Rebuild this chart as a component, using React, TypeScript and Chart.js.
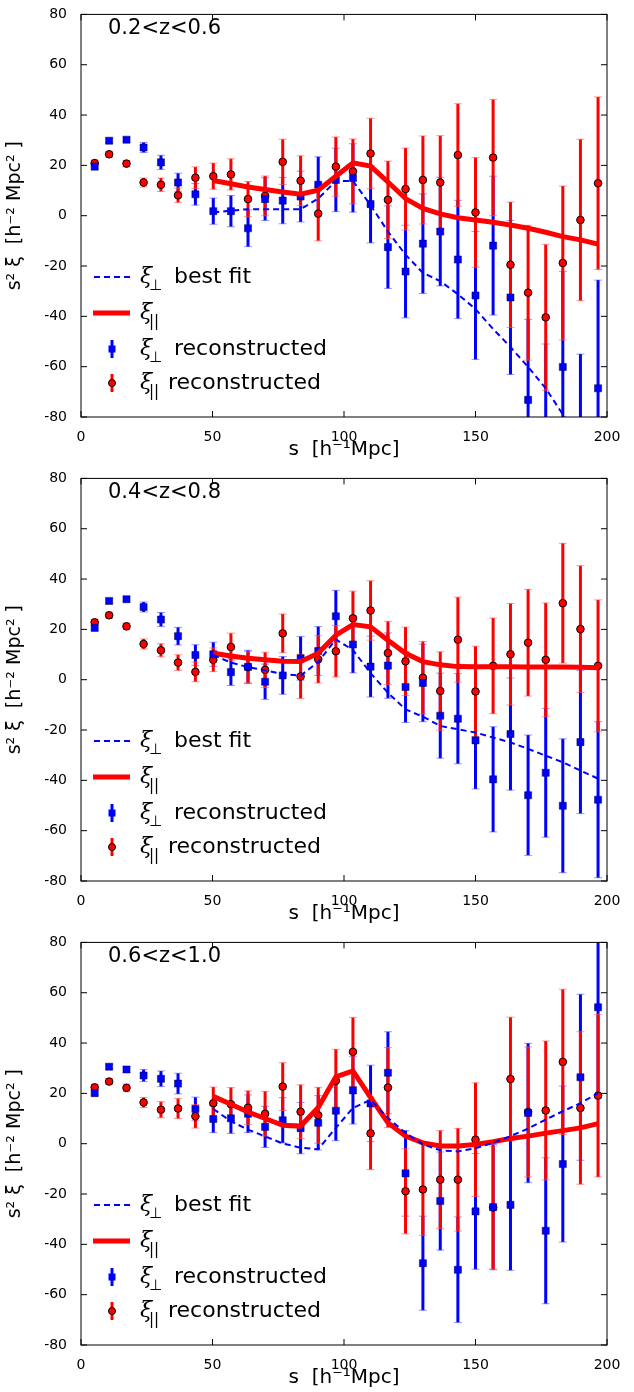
import { useEffect, useRef } from 'react'
import { Chart, registerables } from 'chart.js'

Chart.register(...registerables)

// bin centres, h^-1 Mpc
const sBins = [5.2, 10.7, 17.3, 23.8, 30.4, 36.9, 43.5, 50.3, 57.0, 63.5, 70.0, 76.7, 83.5, 90.2, 96.9,
  103.4, 110.1, 116.7, 123.4, 130.0, 136.6, 143.3, 150.0, 156.7, 163.3, 170.0, 176.7, 183.2, 189.9, 196.6]
// model curves are plotted from s = 50 on
const fitS = sBins.slice(7)

// 0.2<z<0.6
const perp1 = [19.5, 29.8, 30.2, 27.1, 21.2, 13.2, 8.5, 1.8, 1.8, -5.0, 6.6, 6.0, 7.6, 12.3, 14.2,
  15.0, 4.6, -12.5, -22.2, -11.1, -6.3, -17.4, -31.7, -11.9, -32.5, -73.2, -85, -60.1, -95, -68.6]
const perpErr1 = [1.0, 1.0, 1.0, 2.0, 2.8, 3.7, 4.3, 5.2, 6.2, 7.3, 8.5, 9.2, 10.1, 11.1, 12.6,
  13.6, 15.4, 16.4, 18.4, 19.8, 21.6, 23.5, 25.4, 27.6, 30.6, 32, 34, 38, 40, 43]
const par1 = [20.9, 24.4, 20.7, 13.2, 12.3, 8.1, 15.1, 15.7, 16.4, 6.6, 7.9, 21.4, 13.9, 0.8, 19.5,
  17.6, 24.7, 6.3, 10.6, 14.2, 13.2, 24.1, 1.3, 23.1, -19.5, -30.6, -40.4, -18.8, -1.7, 12.9]
const parErr1 = [1.2, 1.2, 1.3, 1.8, 2.7, 2.9, 4.3, 5.2, 6.2, 7.0, 7.9, 9.0, 9.9, 10.8, 11.8,
  12.9, 14.0, 15.4, 16.3, 17.5, 18.6, 20.4, 21.8, 23.1, 24.9, 26.8, 29.0, 30.6, 32.1, 34.3]
const perpFit1 = [1.3, 2.0, 2.6, 2.6, 2.6, 2.6, 6.8, 13.8, 13.8, 4.2, -6.3, -15.5, -22.7, -26.0,
  -31.2, -37.1, -45.0, -52.2, -60.1, -68.6, -79.0, -89.0, -99.0]
const parFit1 = [14.0, 12.7, 11.4, 10.4, 9.4, 8.5, 10.1, 15.7, 21.0, 19.7, 13.4, 6.8, 2.9, 0.7,
  -0.8, -1.7, -2.6, -3.7, -5.0, -6.6, -8.3, -9.6, -11.3]

// 0.4<z<0.8
const perp2 = [20.6, 31.3, 32.0, 28.9, 23.9, 17.3, 9.8, 10.1, 3.0, 5.1, -0.8, 1.7, 8.5, 11.4, 25.2,
  14.0, 5.2, 5.6, -2.9, -1.3, -14.3, -15.5, -24.1, -39.6, -21.6, -45.9, -37.0, -50.1, -24.8, -47.7]
const perpErr2 = [1.0, 1.0, 1.0, 2.0, 2.8, 3.5, 4.1, 4.8, 5.3, 6.6, 7.0, 7.5, 8.7, 9.7, 10.3,
  11.3, 12.1, 13.0, 14.1, 15.4, 16.9, 17.9, 19.3, 20.9, 22.3, 23.9, 25.6, 26.6, 28.4, 31]
const par2 = [22.8, 25.6, 21.2, 14.2, 11.7, 6.8, 3.1, 7.9, 13.0, 5.0, 3.9, 18.4, 1.3, 8.1, 11.3,
  24.4, 27.5, 10.6, 7.3, 0.8, -4.5, 15.9, -4.7, 5.5, 10.1, 14.7, 7.9, 30.4, 20.1, 5.5]
const parErr2 = [1.2, 1.2, 1.3, 2.0, 2.6, 3.1, 3.9, 4.7, 5.5, 6.2, 7.0, 7.7, 8.8, 9.4, 10.2,
  10.8, 11.8, 12.6, 13.6, 14.4, 15.6, 16.9, 18.0, 19.0, 20.2, 21.2, 22.6, 23.8, 25.2, 26.2]
const perpFit2 = [9.8, 6.8, 5.0, 3.7, 2.2, 1.6, 7.1, 16.0, 11.8, 2.6, -5.2, -11.8, -14.7, -18.4,
  -19.7, -21.0, -23.0, -24.9, -27.5, -30.2, -32.8, -36.1, -39.3]
const parFit2 = [10.5, 9.4, 8.5, 7.9, 7.3, 7.2, 10.5, 17.7, 21.9, 21.0, 15.7, 10.5, 7.2, 5.9,
  5.2, 5.1, 5.1, 5.1, 5.0, 5.0, 5.0, 4.9, 4.7]

// 0.6<z<1.0
const perp3 = [20.1, 30.6, 29.5, 27.1, 25.8, 23.9, 13.8, 9.8, 10.1, 11.9, 6.7, 9.3, 6.2, 8.3, 13.1,
  21.2, 16.0, 28.2, -11.8, -47.5, -22.8, -50.1, -26.9, -25.2, -24.3, 12.2, -34.6, -8.1, 26.4, 54.2]
const perpErr3 = [1.0, 1.0, 1.2, 2.4, 3.1, 4.1, 4.7, 5.4, 6.0, 7.5, 8.2, 9.0, 10.2, 10.8, 11.9,
  13.4, 15.2, 16.3, 17.0, 18.7, 19.5, 21.0, 23.0, 24.9, 26.0, 27.7, 29.0, 31.0, 33.0, 36]
const par3 = [22.4, 24.7, 22.2, 16.4, 13.5, 14.0, 10.9, 16.1, 15.7, 14.3, 11.9, 22.7, 12.7, 11.3, 25.0,
  36.5, 4.1, 22.3, -18.9, -18.2, -14.3, -14.3, 1.6, -25.4, 25.7, 12.6, 13.2, 32.5, 14.2, 19.1]
const parErr3 = [1.2, 1.2, 1.5, 2.0, 3.2, 4.0, 4.7, 6.4, 6.6, 6.7, 8.9, 9.5, 10.7, 11.1, 12.5,
  13.7, 14.4, 15.9, 16.9, 18.2, 19.5, 20.4, 22.6, 24.4, 24.6, 25.8, 27.6, 28.9, 30.3, 32.3]
const perpFit3 = [13.8, 8.9, 5.6, 2.9, 0.1, -1.6, -2.2, 6.3, 14.2, 17.4, 10.2, 4.3, -0.3, -2.6,
  -3.1, -1.8, 0.4, 3.0, 6.0, 9.6, 12.9, 16.1, 20.1]
const parFit3 = [18.8, 15.7, 12.6, 10.0, 7.3, 7.0, 14.4, 26.6, 28.9, 18.4, 8.3, 3.0, 0.3, -0.9,
  -0.9, -0.3, 0.8, 2.1, 3.0, 4.2, 5.2, 6.3, 8.0]

const panels = [
  { label: '0.2<z<0.6', perp: perp1, perpErr: perpErr1, par: par1, parErr: parErr1, perpFit: perpFit1, parFit: parFit1 },
  { label: '0.4<z<0.8', perp: perp2, perpErr: perpErr2, par: par2, parErr: parErr2, perpFit: perpFit2, parFit: parFit2 },
  { label: '0.6<z<1.0', perp: perp3, perpErr: perpErr3, par: par3, parErr: parErr3, perpFit: perpFit3, parFit: parFit3 },
]

const BLUE = '#0000ff'
const RED = '#ff0000'
const FONT = '"DejaVu Sans", sans-serif'

const pts = (xs: number[], ys: number[]) => xs.map((x, i) => ({ x, y: ys[i] }))

// error bars, frame, inward ticks, panel label and legend
const decorPlugin = {
  id: 'decor',
  beforeDatasetsDraw(chart: any, _a: any, opts: any) {
    const { ctx, chartArea: ca, scales } = chart
    const xs = scales.x, ys = scales.y
    ctx.save()
    ctx.beginPath()
    ctx.rect(ca.left, ca.top, ca.right - ca.left, ca.bottom - ca.top)
    ctx.clip()
    const bars = [
      { vals: opts.perp, errs: opts.perpErr, color: BLUE, cap: 'rgba(80,80,255,0.6)' },
      { vals: opts.par, errs: opts.parErr, color: RED, cap: 'rgba(255,80,80,0.6)' },
    ]
    for (const b of bars) {
      sBins.forEach((s: number, i: number) => {
        const px = xs.getPixelForValue(s)
        const y1 = ys.getPixelForValue(b.vals[i] + b.errs[i])
        const y2 = ys.getPixelForValue(b.vals[i] - b.errs[i])
        ctx.strokeStyle = b.color
        ctx.lineWidth = 3
        ctx.beginPath(); ctx.moveTo(px, y1); ctx.lineTo(px, y2); ctx.stroke()
        ctx.strokeStyle = b.cap
        ctx.lineWidth = 1
        ctx.beginPath()
        ctx.moveTo(px - 4, y1); ctx.lineTo(px + 4, y1)
        ctx.moveTo(px - 4, y2); ctx.lineTo(px + 4, y2)
        ctx.stroke()
      })
    }
    ctx.restore()
  },
  afterDraw(chart: any, _a: any, opts: any) {
    const { ctx, chartArea: ca, scales } = chart
    ctx.save()
    ctx.strokeStyle = '#000'
    ctx.lineWidth = 1
    ctx.strokeRect(ca.left, ca.top, ca.right - ca.left, ca.bottom - ca.top)
    ctx.beginPath()
    for (const t of scales.x.ticks) {
      const px = scales.x.getPixelForValue(t.value)
      ctx.moveTo(px, ca.bottom); ctx.lineTo(px, ca.bottom - 6)
      ctx.moveTo(px, ca.top); ctx.lineTo(px, ca.top + 6)
    }
    for (const t of scales.y.ticks) {
      const py = scales.y.getPixelForValue(t.value)
      ctx.moveTo(ca.left, py); ctx.lineTo(ca.left + 6, py)
      ctx.moveTo(ca.right, py); ctx.lineTo(ca.right - 6, py)
    }
    ctx.stroke()

    ctx.fillStyle = '#000'
    ctx.textBaseline = 'middle'
    ctx.font = `21px ${FONT}`
    ctx.fillText(opts.label, 108, 29)

    // legend
    const xi = (x: number, y: number, sub: string, rest: string, restX: number) => {
      ctx.font = `italic 22px "DejaVu Serif", serif`
      ctx.fillText('ξ', x, y)
      ctx.font = `15px ${FONT}`
      ctx.fillText(sub, x + 9, y + 9)
      ctx.font = `22px ${FONT}`
      ctx.fillText(rest, restX, y)
    }
    ctx.strokeStyle = BLUE
    ctx.lineWidth = 2
    ctx.setLineDash([6, 4])
    ctx.beginPath(); ctx.moveTo(94, 277); ctx.lineTo(130, 277); ctx.stroke()
    ctx.setLineDash([])
    xi(140, 277, '⊥', 'best fit', 174)
    ctx.strokeStyle = RED
    ctx.lineWidth = 5
    ctx.beginPath(); ctx.moveTo(93, 313); ctx.lineTo(130, 313); ctx.stroke()
    xi(140, 313, '||', '', 174)
    ctx.strokeStyle = BLUE
    ctx.lineWidth = 3
    ctx.beginPath(); ctx.moveTo(112, 340); ctx.lineTo(112, 358); ctx.stroke()
    ctx.fillStyle = BLUE
    ctx.fillRect(108.5, 345.5, 7, 7)
    ctx.fillStyle = '#000'
    xi(140, 349, '⊥', 'reconstructed', 174)
    ctx.strokeStyle = RED
    ctx.beginPath(); ctx.moveTo(112, 374); ctx.lineTo(112, 392); ctx.stroke()
    ctx.fillStyle = RED
    ctx.lineWidth = 1
    ctx.strokeStyle = '#000'
    ctx.beginPath(); ctx.arc(112, 383, 3.5, 0, Math.PI * 2); ctx.fill(); ctx.stroke()
    ctx.fillStyle = '#000'
    xi(140, 383, '||', 'reconstructed', 168)
    ctx.restore()
  },
}

function Panel({ p }: { p: typeof panels[number] }) {
  const canvasRef = useRef<HTMLCanvasElement | null>(null)
  const chartRef = useRef<Chart | null>(null)

  useEffect(() => {
    if (!canvasRef.current) return
    if (chartRef.current) chartRef.current.destroy()
    chartRef.current = new Chart(canvasRef.current, {
      type: 'scatter',
      data: {
        datasets: [
          {
            data: pts(fitS, p.perpFit), showLine: true, borderColor: BLUE, borderWidth: 2,
            borderDash: [6, 4], pointRadius: 0, tension: 0,
          },
          {
            data: pts(fitS, p.parFit), showLine: true, borderColor: RED, borderWidth: 5,
            pointRadius: 0, tension: 0,
          },
          {
            data: pts(sBins, p.perp), pointStyle: 'rect', pointRadius: 5, backgroundColor: BLUE,
            borderColor: '#000044', borderWidth: 0.5,
          },
          {
            data: pts(sBins, p.par), pointStyle: 'circle', pointRadius: 3.8, backgroundColor: RED,
            borderColor: '#000', borderWidth: 1,
          },
        ] as any,
      },
      options: {
        animation: false,
        responsive: false,
        layout: { padding: { top: 10, right: 27, left: 0, bottom: 0 } },
        plugins: {
          legend: { display: false },
          tooltip: { enabled: false },
          decor: p,
        } as any,
        scales: {
          x: {
            type: 'linear', min: 0, max: 200,
            ticks: { stepSize: 50, color: '#000', font: { family: FONT, size: 14 }, padding: 4 },
            grid: { display: false },
            border: { display: false },
            title: { display: true, text: 's  [h⁻¹Mpc]', color: '#000', font: { family: FONT, size: 20 }, padding: 2 },
            afterFit: (s: any) => { s.height = 47 },
          },
          y: {
            min: -80, max: 80,
            ticks: { stepSize: 20, color: '#000', font: { family: FONT, size: 14 }, padding: 6 },
            grid: { display: false },
            border: { display: false },
            title: { display: true, text: 's² ξ  [h⁻² Mpc² ]', color: '#000', font: { family: FONT, size: 19 }, padding: 4 },
            afterFit: (s: any) => { s.width = 81 },
          },
        },
      } as any,
      plugins: [decorPlugin],
    })
    return () => {
      if (chartRef.current) chartRef.current.destroy()
      chartRef.current = null
    }
  }, [p])

  return <canvas ref={canvasRef} width={634} height={464} style={{ display: 'block' }}></canvas>
}

export default function App() {
  return (
    <div style={{ position: 'absolute', left: 0, top: 0, width: 634, height: 1392, background: '#fff' }}>
      {panels.map((p, i) => (
        <Panel key={i} p={p} />
      ))}
    </div>
  )
}
